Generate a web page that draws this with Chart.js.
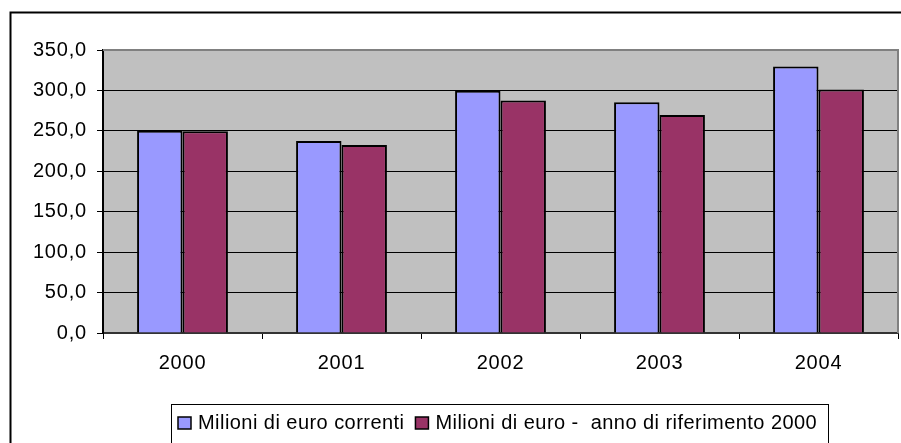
<!DOCTYPE html>
<html lang="it">
<head>
  <meta charset="UTF-8" />
  <title>Milioni di euro 2000-2004</title>
  <script src="https://cdn.jsdelivr.net/npm/chart.js"></script>
  <style>
    body { margin: 0; background: #fff; }
  </style>
</head>
<body>
  <canvas id="chart" width="901" height="443"></canvas>

  <script>
    // dati
    const anni = ['2000', '2001', '2002', '2003', '2004'];
    const euroCorrenti = [250, 237.5, 299.5, 285.5, 329.5];
    const euroRif2000 = [249.5, 232.5, 287.5, 269.5, 301];
    const yTickLabels = ['0,0', '50,0', '100,0', '150,0', '200,0', '250,0', '300,0', '350,0'];
    const nomiSerie = ['Milioni di euro correnti', 'Milioni di euro -  anno di riferimento 2000'];
    const coloriSerie = ['#9999FF', '#993366'];

    const FONT = '"Liberation Sans", Arial, sans-serif';

    // sfondo grigio, cornice esterna e legenda in stile Excel
    const excelLook = {
      id: 'excelLook',
      beforeDraw(chart) {
        const { ctx, chartArea: a } = chart;
        ctx.save();
        ctx.fillStyle = '#C0C0C0';
        ctx.fillRect(a.left, a.top, a.right - a.left, a.bottom - a.top);
        ctx.restore();
        // testo un po' più largo, come nel rendering di Excel
        ctx.letterSpacing = '0.8px';
      },
      afterDraw(chart) {
        const { ctx, chartArea: a } = chart;
        ctx.save();
        // bordo grigio area del tracciato (alto e destra)
        ctx.strokeStyle = '#808080';
        ctx.lineWidth = 2;
        ctx.beginPath();
        ctx.moveTo(a.left, a.top);
        ctx.lineTo(a.right, a.top);
        ctx.lineTo(a.right, a.bottom);
        ctx.stroke();

        // cornice esterna del grafico
        ctx.strokeStyle = '#000';
        ctx.lineWidth = 2;
        ctx.strokeRect(10.5, 12.5, 1000, 1000);

        // legenda
        ctx.font = '20px ' + FONT;
        ctx.letterSpacing = '0.45px';
        ctx.textBaseline = 'alphabetic';
        ctx.textAlign = 'left';
        ctx.lineWidth = 1;
        ctx.strokeStyle = '#000';
        ctx.strokeRect(171.5, 404.5, 657, 60);
        let x = 178;
        chart.data.datasets.forEach((ds, i) => {
          ctx.fillStyle = ds.backgroundColor;
          ctx.fillRect(x, 417, 13, 12);
          ctx.lineWidth = 1.5;
          ctx.strokeRect(x, 417, 13, 12);
          ctx.fillStyle = '#000';
          ctx.fillText(ds.label, x + 20, 429);
          x += 20 + ctx.measureText(ds.label).width + 11;
        });
        ctx.restore();
      }
    };

    new Chart(document.getElementById('chart'), {
      type: 'bar',
      data: {
        labels: anni,
        datasets: [
          {
            label: nomiSerie[0],
            data: euroCorrenti,
            backgroundColor: coloriSerie[0],
            borderColor: '#000',
            borderWidth: 2
          },
          {
            label: nomiSerie[1],
            data: euroRif2000,
            backgroundColor: coloriSerie[1],
            borderColor: '#000',
            borderWidth: 2
          }
        ]
      },
      options: {
        responsive: false,
        animation: false,
        layout: { padding: { top: 50, right: 3, bottom: 70, left: 0 } },
        plugins: {
          legend: { display: false },
          tooltip: { enabled: false }
        },
        datasets: {
          bar: { categoryPercentage: 2 / 3.5, barPercentage: 1 }
        },
        scales: {
          x: {
            ticks: { color: '#000', font: { family: FONT, size: 20 }, padding: 12 },
            grid: { drawOnChartArea: false, offset: true, tickLength: 6, tickColor: '#000' },
            border: { color: '#333', width: 2 },
            afterFit(s) { s.height = 40; }
          },
          y: {
            min: 0,
            max: 350,
            ticks: {
              stepSize: 50,
              color: '#000',
              font: { family: FONT, size: 20 },
              padding: 10,
              callback: (v, i) => yTickLabels[i]
            },
            grid: {
              color: c => (c.tick && c.tick.value === 350 ? '#808080' : '#000'),
              tickColor: '#000',
              tickLength: 6,
              lineWidth: 1
            },
            border: { color: '#000', width: 2 },
            afterFit(s) { s.width = 103; }
          }
        }
      },
      plugins: [excelLook]
    });
  </script>
</body>
</html>
